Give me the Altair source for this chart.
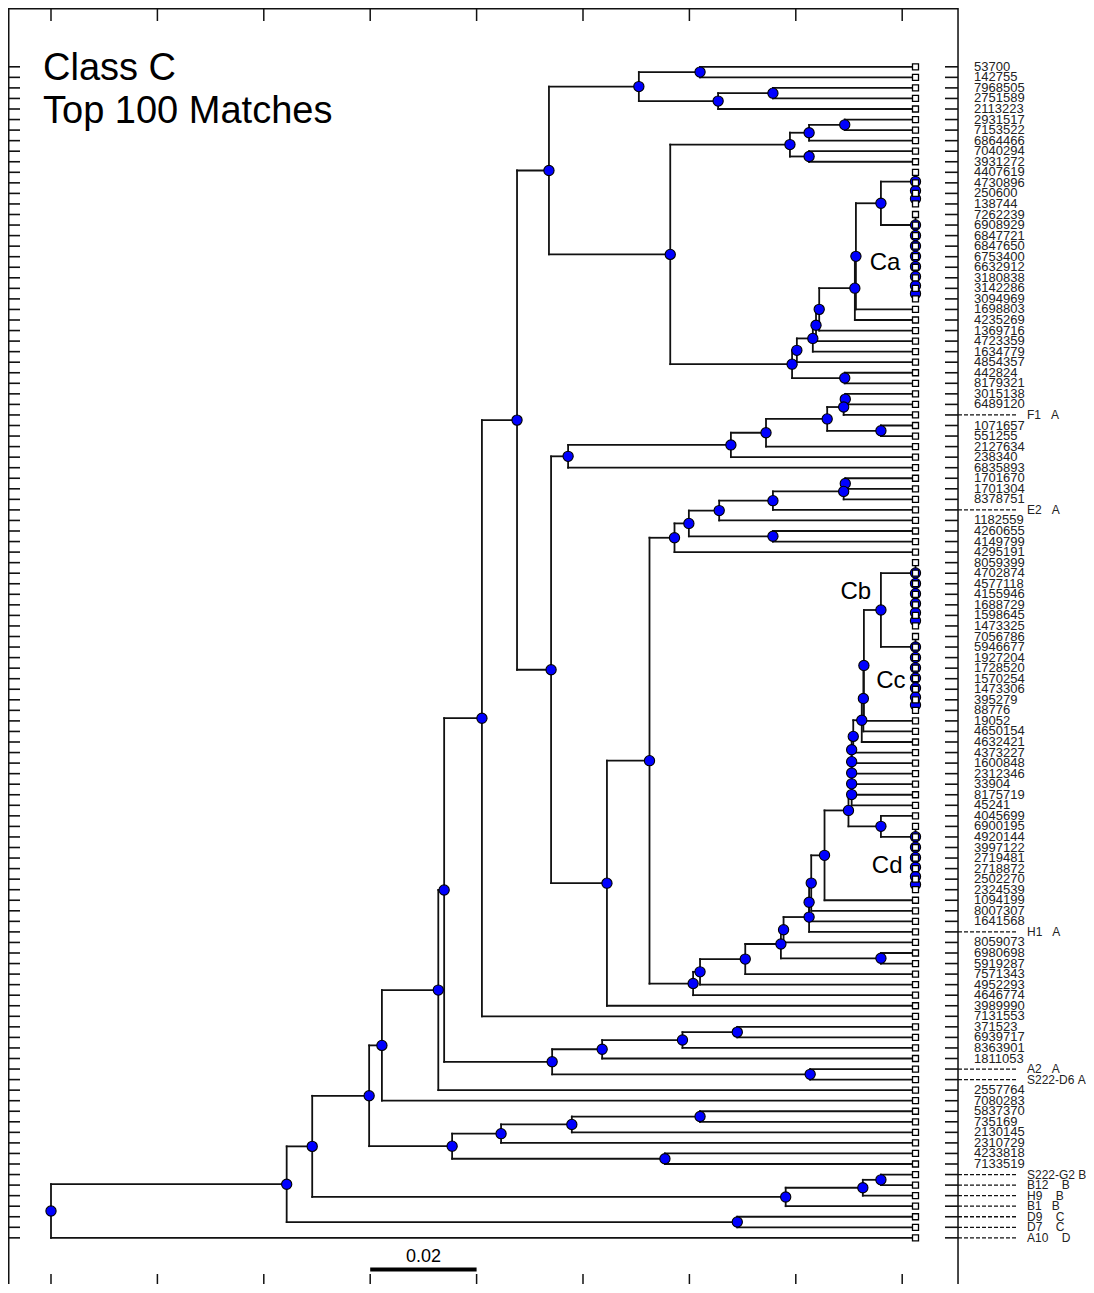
import altair as alt
import pandas as pd

# ---------------- data ----------------
leaf_names = [
    "53700", "142755", "7968505", "2751589", "2113223", "2931517", "7153522", "6864466", "7040294", "3931272",
    "4407619", "4730896", "250600", "138744", "7262239", "6908929", "6847721", "6847650", "6753400", "6632912",
    "3180838", "3142286", "3094969", "1698803", "4235269", "1369716", "4723359", "1634779", "4854357", "442824",
    "8179321", "3015138", "6489120", "F1", "1071657", "551255", "2127634", "238340", "6835893", "1701670",
    "1701304", "8378751", "E2", "1182559", "4260655", "4149799", "4295191", "8059399", "4702874", "4577118",
    "4155946", "1688729", "1598645", "1473325", "7056786", "5946677", "1927204", "1728520", "1570254", "1473306",
    "395279", "88776", "19052", "4650154", "4632421", "4373227", "1600848", "2312346", "33904", "8175719",
    "45241", "4045699", "6900195", "4920144", "3997122", "2719481", "2718872", "2502270", "2324539", "1094199",
    "8007307", "1641568", "H1", "8059073", "6980698", "5919287", "7571343", "4952293", "4646774", "3989990",
    "7131553", "371523", "6939717", "8363901", "1811053", "A2", "S222-D6", "2557764", "7080283", "5837370",
    "735169", "2130145", "2310729", "4233818", "7133519", "S222-G2", "B12", "H9", "B1", "D9",
    "D7", "A10",
]

ref_strains = ["F1", "E2", "H1", "A2", "S222-D6", "S222-G2", "B12", "H9", "B1", "D9", "D7", "A10"]
ref_classes = ["A", "A", "A", "A", "A", "B", "B", "B", "B", "C", "C", "D"]
ref_gaps = [3, 3, 3, 3, 1, 1, 4, 4, 3, 4, 4, 4]

leaf_depth = 0.1625

# groups of identical sequences (zero-length clusters at the tips)
zero_length_groups = {
    "Ca1": ["4407619", "4730896", "250600", "138744"],
    "Ca2": ["7262239", "6908929", "6847721", "6847650", "6753400", "6632912", "3180838", "3142286", "3094969"],
    "Cb1": ["8059399", "4702874", "4577118", "4155946", "1688729", "1598645", "1473325"],
    "Cb2": ["7056786", "5946677", "1927204", "1728520", "1570254", "1473306", "395279", "88776"],
    "Cd": ["6900195", "4920144", "3997122", "2719481", "2718872", "2502270", "2324539"],
}

# internal nodes: (name, distance from root, children)
internal_nodes = [
    ("a1", 0.1220, ["53700", "142755"]),
    ("a2", 0.1357, ["7968505", "2751589"]),
    ("a3", 0.1254, ["a2", "2113223"]),
    ("a4", 0.1105, ["a1", "a3"]),
    ("b1", 0.1492, ["2931517", "7153522"]),
    ("b2", 0.1425, ["b1", "6864466"]),
    ("b3", 0.1425, ["7040294", "3931272"]),
    ("b4", 0.1389, ["b2", "b3"]),
    ("ca1", 0.1560, ["Ca1", "Ca2"]),
    ("ca2", 0.1513, ["ca1", "1698803"]),
    ("ca3", 0.1511, ["ca2", "4235269"]),
    ("ca4", 0.1444, ["ca3", "1369716"]),
    ("ca5", 0.1438, ["ca4", "4723359"]),
    ("ca6", 0.1432, ["ca5", "1634779"]),
    ("ca7", 0.1402, ["ca6", "4854357"]),
    ("ca8", 0.1492, ["442824", "8179321"]),
    ("ca9", 0.1393, ["ca7", "ca8"]),
    ("c1", 0.1164, ["b4", "ca9"]),
    ("c2", 0.0936, ["a4", "c1"]),
    ("f1", 0.1493, ["3015138", "6489120"]),
    ("f2", 0.1490, ["f1", "F1"]),
    ("f3", 0.1560, ["1071657", "551255"]),
    ("f4", 0.1459, ["f2", "f3"]),
    ("f5", 0.1344, ["f4", "2127634"]),
    ("f6", 0.1278, ["f5", "238340"]),
    ("f7", 0.0972, ["f6", "6835893"]),
    ("e1", 0.1493, ["1701670", "1701304"]),
    ("e2", 0.1490, ["e1", "8378751"]),
    ("e3", 0.1357, ["e2", "E2"]),
    ("e4", 0.1256, ["e3", "1182559"]),
    ("e5", 0.1357, ["4260655", "4149799"]),
    ("e6", 0.1199, ["e4", "e5"]),
    ("e7", 0.1172, ["e6", "4295191"]),
    ("cb", 0.1560, ["Cb1", "Cb2"]),
    ("g1", 0.1528, ["cb", "19052"]),
    ("g2", 0.1527, ["g1", "4650154"]),
    ("g3", 0.1524, ["g2", "4632421"]),
    ("g4", 0.1508, ["g3", "4373227"]),
    ("g5", 0.1505, ["g4", "1600848"]),
    ("g6", 0.1505, ["g5", "2312346"]),
    ("g7", 0.1505, ["g6", "33904"]),
    ("g8", 0.1505, ["g7", "8175719"]),
    ("g9", 0.1505, ["g8", "45241"]),
    ("cd", 0.1560, ["4045699", "Cd"]),
    ("g10", 0.1499, ["g9", "cd"]),
    ("g11", 0.1454, ["g10", "1094199"]),
    ("g12", 0.1429, ["g11", "8007307"]),
    ("g13", 0.1425, ["g12", "1641568"]),
    ("g14", 0.1425, ["g13", "H1"]),
    ("g15", 0.1377, ["g14", "8059073"]),
    ("h1", 0.1560, ["6980698", "5919287"]),
    ("g16", 0.1372, ["g15", "h1"]),
    ("g17", 0.1305, ["g16", "7571343"]),
    ("g18", 0.1220, ["g17", "4952293"]),
    ("g19", 0.1207, ["g18", "4646774"]),
    ("g20", 0.1125, ["e7", "g19"]),
    ("g21", 0.1045, ["g20", "3989990"]),
    ("c3", 0.0940, ["f7", "g21"]),
    ("c4", 0.0876, ["c2", "c3"]),
    ("c5", 0.0810, ["c4", "7131553"]),
    ("i1", 0.1290, ["371523", "6939717"]),
    ("i2", 0.1187, ["i1", "8363901"]),
    ("i3", 0.1036, ["i2", "1811053"]),
    ("i4", 0.1427, ["A2", "S222-D6"]),
    ("i5", 0.0942, ["i3", "i4"]),
    ("c6", 0.0739, ["c5", "i5"]),
    ("c7", 0.0728, ["c6", "2557764"]),
    ("c8", 0.0622, ["c7", "7080283"]),
    ("j1", 0.1220, ["5837370", "735169"]),
    ("j2", 0.0979, ["j1", "2130145"]),
    ("j3", 0.0846, ["j2", "2310729"]),
    ("j4", 0.1154, ["4233818", "7133519"]),
    ("j5", 0.0754, ["j3", "j4"]),
    ("c9", 0.0598, ["c8", "j5"]),
    ("k1", 0.1560, ["S222-G2", "B12"]),
    ("k2", 0.1526, ["k1", "H9"]),
    ("k3", 0.1381, ["k2", "B1"]),
    ("c10", 0.0491, ["c9", "k3"]),
    ("l1", 0.1290, ["D9", "D7"]),
    ("c11", 0.0443, ["c10", "l1"]),
    ("root", 0.0, ["c11", "A10"]),
]

cluster_names = ["Ca", "Cb", "Cc", "Cd"]
cluster_rows = [18.6, 49.8, 58.2, 75.8]
cluster_dist = [0.1539, 0.1484, 0.1551, 0.1543]

tick_values = [0.0, 0.02, 0.04, 0.06, 0.08, 0.10, 0.12, 0.14, 0.16]
scale_bar_start = 0.06
scale_bar_length = 0.02
title_lines = ["Class C", "Top 100 Matches"]

# ---------------- layout ----------------
depth = {n: leaf_depth for n in leaf_names}
children = {}
alias = {}
for gname, members in zero_length_groups.items():
    ids = [f"{gname}_{k}" for k in range(len(members) - 1)]
    for k in range(len(members) - 1):
        nxt = members[k + 1] if k == len(members) - 2 else ids[k + 1]
        children[ids[k]] = [members[k], nxt]
        depth[ids[k]] = leaf_depth
    alias[gname] = ids[0]
for name, d, ch in internal_nodes:
    depth[name] = d
    children[name] = ch


def res(n):
    return alias.get(n, n)


leaf_row = {n: i for i, n in enumerate(leaf_names)}
ycache = {}


def gety(n):
    n = res(n)
    if n in leaf_row:
        return float(leaf_row[n])
    if n not in ycache:
        ch = children[n]
        ycache[n] = (gety(ch[0]) + gety(ch[-1])) / 2.0
    return ycache[n]


seg_rows = []
dot_rows = []
for n, ch in children.items():
    xn = depth[n]
    ys = [gety(c) for c in ch]
    seg_rows.append({"x": xn, "x2": xn, "y": min(ys), "y2": max(ys)})
    for c in ch:
        c = res(c)
        seg_rows.append({"x": xn, "x2": depth[c], "y": gety(c), "y2": gety(c)})
    dot_rows.append({"x": xn, "y": gety(n)})

segs = pd.DataFrame(seg_rows)
dots = pd.DataFrame(dot_rows)

leaf_rows = []
for i, n in enumerate(leaf_names):
    if n in ref_strains:
        k = ref_strains.index(n)
        lab = n + "\u00a0" * ref_gaps[k] + ref_classes[k]
        isref = True
    else:
        lab = n
        isref = False
    leaf_rows.append({"name": n, "x": leaf_depth, "y": float(i), "label": lab, "ref": isref})
leaves = pd.DataFrame(leaf_rows)
plain = leaves[~leaves["ref"]]
refs = leaves[leaves["ref"]]

ann = pd.DataFrame({"label": cluster_names, "y": cluster_rows, "x": cluster_dist})
ticks = pd.DataFrame({"t": tick_values})
bar = pd.DataFrame({"x": [scale_bar_start], "x2": [scale_bar_start + scale_bar_length],
                    "xm": [scale_bar_start + scale_bar_length / 2], "lab": [f"{scale_bar_length:.2f}"]})
one = pd.DataFrame({"k": [0]})

# ---------------- chart ----------------
W, H = 950, 1276
FONT = "Liberation Sans"
xs = alt.Scale(domain=[-0.0080827, 0.170489], nice=False, zero=False)
ys = alt.Scale(domain=[-5.5735, 115.3744], nice=False, zero=False, reverse=True)
LINE = "#111111"


def X(f):
    return alt.X(f, scale=xs, axis=None)


def Y(f):
    return alt.Y(f, scale=ys, axis=None)


tree_lines = alt.Chart(segs).mark_rule(color=LINE, strokeWidth=1.8, strokeCap="square").encode(
    x=X("x:Q"), x2="x2:Q", y=Y("y:Q"), y2="y2:Q")

node_dots = alt.Chart(dots).mark_point(shape="circle", filled=True, fill="#0000ff", stroke="#000000",
                                       strokeWidth=1.1, size=105, opacity=1).encode(x=X("x:Q"), y=Y("y:Q"))

leaf_sq = alt.Chart(leaves).mark_point(shape="square", filled=True, fill="white", stroke="#000000",
                                       strokeWidth=1.3, size=36, opacity=1).encode(x=X("x:Q"), y=Y("y:Q"))

left_ticks = alt.Chart(leaves).mark_rule(color=LINE, strokeWidth=1.6).encode(
    x=alt.value(0), x2=alt.value(12), y=Y("y:Q"))
right_ticks = alt.Chart(leaves).mark_rule(color=LINE, strokeWidth=1.6).encode(
    x=alt.value(937), x2=alt.value(W), y=Y("y:Q"))

ref_dash = alt.Chart(refs).mark_rule(color=LINE, strokeWidth=1.3, strokeDash=[4, 2]).encode(
    x=alt.value(W), x2=alt.value(1010), y=Y("y:Q"))

plain_text = alt.Chart(plain).mark_text(align="left", baseline="middle", fontSize=13, font=FONT,
                                        color="#222222").encode(x=alt.value(966), y=Y("y:Q"), text="label:N")
ref_text = alt.Chart(refs).mark_text(align="left", baseline="middle", fontSize=12, font=FONT,
                                     color="#222222").encode(x=alt.value(1019), y=Y("y:Q"), text="label:N")

ann_text = alt.Chart(ann).mark_text(align="left", baseline="middle", fontSize=24, font=FONT,
                                    color="#000000").encode(x=X("x:Q"), y=Y("y:Q"), text="label:N")

top_ticks = alt.Chart(ticks).mark_rule(color=LINE, strokeWidth=1.5).encode(
    x=X("t:Q"), y=alt.value(0), y2=alt.value(13))
bottom_ticks = alt.Chart(ticks).mark_rule(color=LINE, strokeWidth=1.5).encode(
    x=X("t:Q"), y=alt.value(1266), y2=alt.value(H))

frame_left = alt.Chart(one).mark_rule(color=LINE, strokeWidth=1.5).encode(
    x=alt.value(0.75), y=alt.value(0), y2=alt.value(H))
frame_top = alt.Chart(one).mark_rule(color=LINE, strokeWidth=1.5).encode(
    x=alt.value(0), x2=alt.value(W), y=alt.value(0.75))
frame_right = alt.Chart(one).mark_rule(color=LINE, strokeWidth=1.5).encode(
    x=alt.value(W), y=alt.value(0), y2=alt.value(H))

bar_rule = alt.Chart(bar).mark_rule(color="#000000", strokeWidth=4).encode(
    x=X("x:Q"), x2="x2:Q", y=alt.value(1261.5))
bar_text = alt.Chart(bar).mark_text(align="center", baseline="alphabetic", fontSize=18, font=FONT,
                                    color="#000000").encode(x=X("xm:Q"), y=alt.value(1254), text="lab:N")

title = alt.Chart(one).mark_text(align="left", baseline="alphabetic", fontSize=38, lineHeight=43,
                                 font=FONT, color="#000000").encode(
    x=alt.value(35), y=alt.value(72), text=alt.value(title_lines))

chart = alt.layer(
    frame_left, frame_top, frame_right, top_ticks, bottom_ticks, left_ticks, right_ticks,
    tree_lines, node_dots, leaf_sq, ref_dash, plain_text, ref_text, ann_text, bar_rule, bar_text, title,
).properties(
    width=W, height=H,
    autosize=alt.AutoSizeParams(type="none"),
    padding={"left": 0, "top": 0, "right": 128, "bottom": 0},
).configure_view(stroke="transparent").configure(font=FONT)

chart.save("out.html", embed_options={"renderer": "svg", "actions": False})
